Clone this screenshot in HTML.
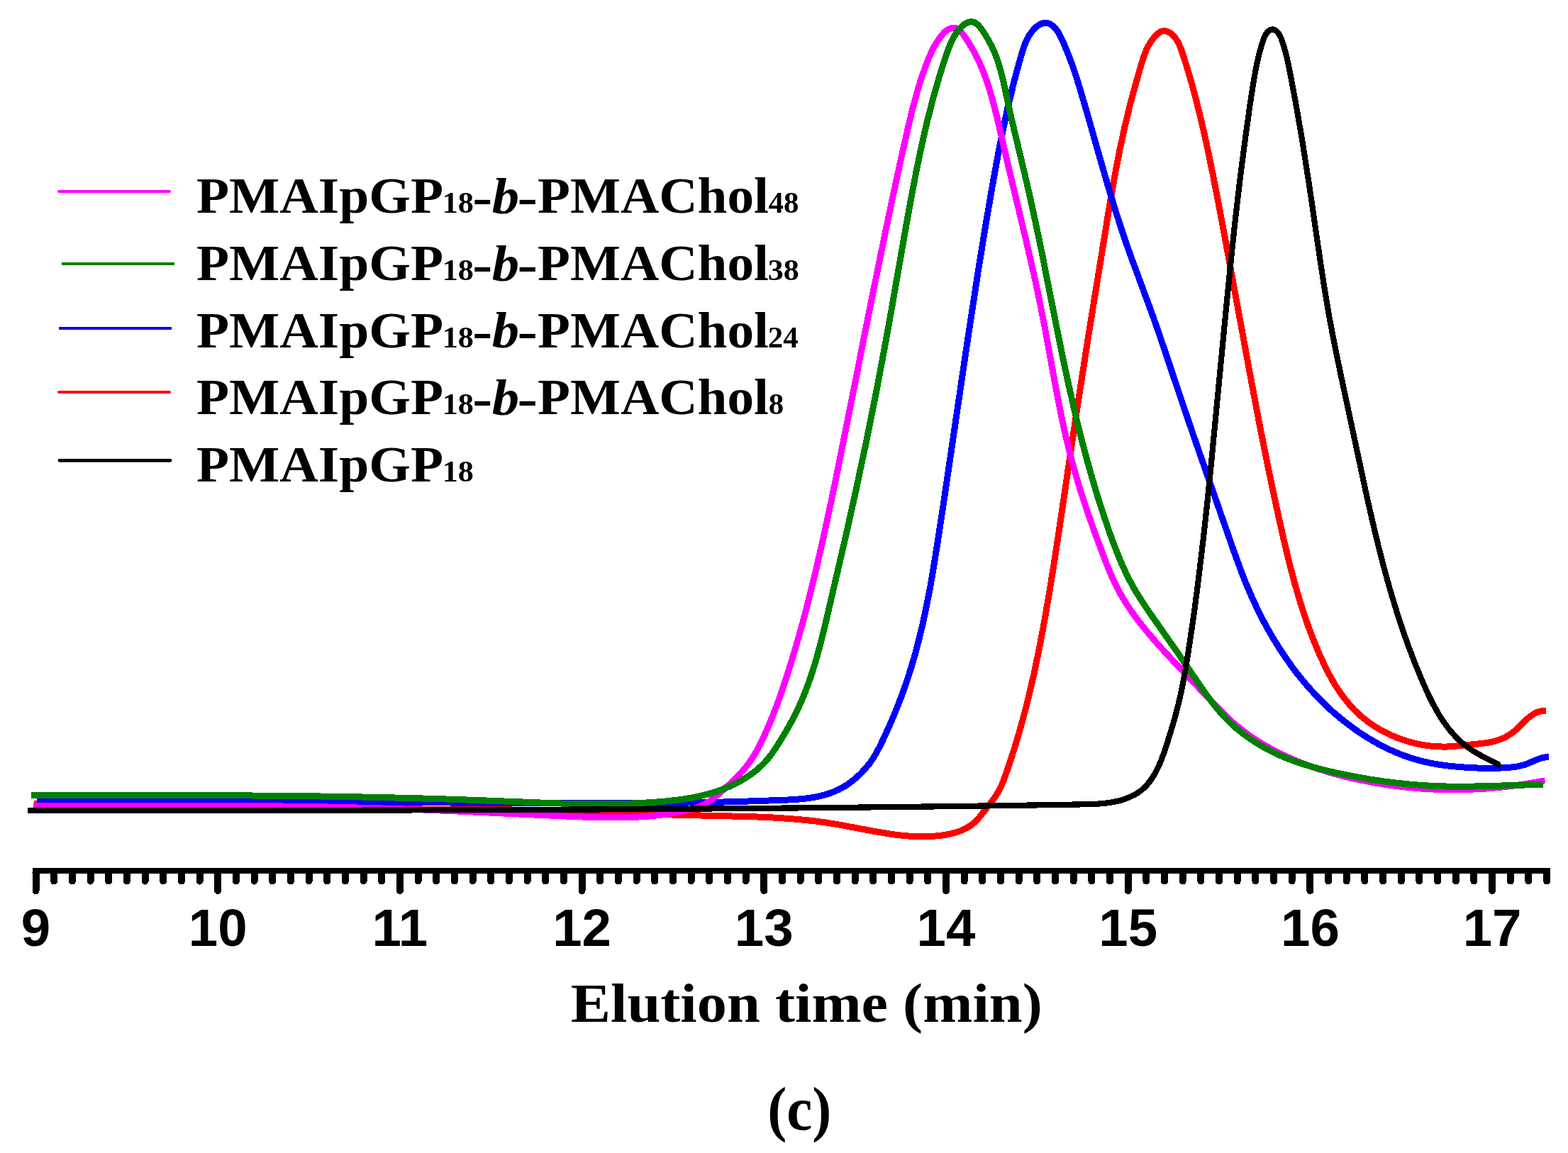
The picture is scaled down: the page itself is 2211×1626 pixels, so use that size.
<!DOCTYPE html><html><head><meta charset="utf-8"><style>html,body{margin:0;padding:0;background:#fff}svg{display:block}</style></head><body>
<svg width="2211" height="1626" viewBox="0 0 2211 1626">
<rect width="2211" height="1626" fill="#fff"/>
<g fill="none" stroke-width="9" stroke-linejoin="round" stroke-linecap="butt" shape-rendering="crispEdges">
<defs><clipPath id="cb"><rect x="0" y="0" width="2115.9" height="1626"/></clipPath></defs>
<path stroke="#ff0000" d="M48.0 1133.6L116.4 1133.8 192.4 1134.6 264.7 1135.8 430.0 1139.1 507.9 1140.3 562.0 1140.8 679.9 1141.5 737.8 1142.2 770.1 1142.9 804.3 1143.9 953.4 1149.2 1039.9 1151.2 1067.4 1152.0 1090.2 1153.0 1111.0 1154.3 1130.9 1156.0 1149.8 1158.0 1165.8 1160.2 1180.8 1162.6 1233.4 1172.5 1254.0 1175.9 1265.3 1177.5 1275.7 1178.6 1286.0 1179.4 1295.5 1179.7 1306.8 1179.7 1318.2 1179.1 1328.7 1178.0 1338.1 1176.4 1346.5 1174.3 1354.5 1171.6 1361.4 1168.5 1367.8 1164.7 1372.3 1161.3 1375.8 1158.1 1379.8 1153.9 1384.8 1147.9 1399.1 1129.4 1403.5 1123.3 1408.0 1116.2 1411.4 1109.5 1415.0 1100.8 1419.8 1087.4 1425.6 1070.3 1431.4 1052.2 1436.3 1035.7 1441.2 1018.3 1445.9 1000.9 1450.5 982.5 1458.0 950.1 1465.2 915.7 1472.1 879.3 1479.1 839.0 1484.7 804.3 1491.4 761.1 1520.0 568.4 1534.9 472.7 1564.6 289.7 1571.8 248.4 1578.8 212.0 1586.2 177.8 1593.8 146.5 1599.2 126.5 1608.3 94.2 1611.1 84.9 1613.6 77.5 1616.5 70.3 1619.5 64.3 1623.0 58.5 1627.0 53.0 1631.0 48.8 1634.6 46.0 1636.9 44.7 1638.4 44.1 1641.5 43.6 1643.9 43.8 1647.0 44.8 1650.1 46.5 1653.0 48.9 1655.7 51.6 1658.6 55.4 1660.7 58.7 1662.8 63.0 1664.7 67.4 1666.7 72.9 1674.0 95.9 1680.5 118.0 1687.0 142.0 1692.7 165.1 1698.3 189.2 1703.9 215.1 1710.0 244.8 1717.8 284.8 1726.4 330.5 1760.9 518.4 1776.6 601.6 1785.7 647.3 1794.4 689.2 1803.0 729.1 1811.4 766.2 1819.0 797.5 1826.3 825.0 1833.8 850.4 1841.4 873.9 1849.9 897.1 1859.0 919.2 1863.7 929.7 1868.2 939.2 1872.5 947.8 1877.0 956.2 1882.8 966.1 1889.0 975.6 1895.7 984.8 1902.2 992.8 1909.1 1000.5 1915.8 1007.0 1923.0 1013.2 1931.2 1019.5 1939.9 1025.3 1948.9 1030.6 1958.3 1035.3 1968.8 1039.9 1978.7 1043.5 1989.7 1046.9 1999.9 1049.3 2010.3 1051.2 2019.7 1052.3 2028.2 1052.9 2037.7 1053.1 2046.1 1052.8 2090.6 1048.4 2101.0 1046.8 2109.2 1044.8 2115.4 1042.8 2120.5 1040.6 2125.5 1038.0 2131.0 1034.5 2134.7 1031.7 2138.3 1028.6 2154.3 1013.1 2158.7 1009.5 2162.6 1006.9 2166.7 1004.8 2171.1 1003.3 2175.8 1002.4 2179.9 1002.2"/>
<path stroke="#0000ff" d="M52.0 1128.4L148.3 1128.4 254.7 1128.8 632.0 1132.0 782.4 1132.9 852.0 1132.9 911.6 1132.7 966.7 1132.1 1017.2 1131.1 1066.0 1129.7 1111.2 1128.0 1129.6 1126.8 1137.7 1125.9 1144.9 1124.8 1153.8 1123.2 1161.7 1121.3 1169.4 1118.9 1176.1 1116.4 1182.7 1113.4 1189.2 1109.9 1195.5 1106.0 1201.5 1101.6 1208.1 1096.2 1214.9 1089.6 1220.6 1083.4 1226.5 1076.1 1231.2 1069.3 1235.4 1062.2 1240.1 1053.5 1245.3 1042.9 1253.3 1025.5 1260.5 1008.7 1267.4 991.6 1273.9 974.4 1279.9 956.9 1285.2 940.3 1290.4 922.6 1295.3 904.0 1301.1 880.0 1306.6 854.0 1312.0 826.1 1317.2 795.4 1322.4 762.8 1330.0 712.9 1363.5 485.7 1379.3 382.3 1388.7 324.4 1397.9 270.2 1406.0 225.2 1413.4 187.4 1421.1 151.5 1429.3 117.5 1434.0 99.6 1439.0 81.7 1442.4 70.2 1445.2 62.3 1447.7 56.4 1450.7 50.8 1454.3 45.5 1457.9 41.2 1462.0 37.4 1465.7 34.8 1469.6 33.0 1471.9 32.4 1473.5 32.2 1475.9 32.4 1478.2 32.9 1480.4 33.8 1482.6 35.0 1484.7 36.6 1487.3 39.0 1489.1 41.1 1491.3 44.1 1495.1 50.7 1500.3 62.1 1506.1 76.1 1511.7 90.8 1517.6 108.2 1524.0 129.0 1533.2 160.4 1553.8 232.8 1563.1 264.7 1573.3 298.2 1582.9 327.9 1588.8 345.3 1595.3 363.4 1620.7 432.1 1630.9 460.5 1641.6 491.8 1667.0 567.5 1683.3 615.3 1739.5 776.4 1750.2 805.6 1756.9 822.7 1763.7 838.7 1771.0 854.6 1778.7 870.3 1786.5 885.0 1794.8 899.3 1803.5 913.4 1812.6 927.2 1821.1 939.2 1829.9 950.9 1839.2 962.3 1848.2 972.6 1858.1 983.3 1867.8 993.0 1877.8 1002.4 1888.2 1011.3 1898.9 1019.9 1909.9 1028.1 1921.4 1035.9 1932.3 1042.7 1943.5 1049.1 1955.0 1055.0 1966.7 1060.4 1977.8 1064.9 1990.8 1069.4 2003.1 1072.9 2016.4 1076.0 2029.9 1078.4 2044.4 1080.3 2060.8 1081.8 2079.2 1082.9 2096.7 1083.4 2109.6 1083.3 2121.5 1082.8 2132.3 1081.9 2140.4 1080.8 2145.7 1079.6 2150.9 1078.0 2156.1 1076.0 2167.1 1071.3 2173.2 1069.1 2178.5 1067.9 2184.0 1067.5"/>
<path stroke="#ff00ff" d="M47.0 1136.2L211.9 1136.0 300.8 1136.1 386.0 1136.8 462.1 1138.0 528.0 1139.6 592.1 1141.8 647.9 1144.1 777.0 1150.1 824.7 1152.1 852.2 1152.9 875.1 1152.9 887.9 1152.6 899.8 1152.1 911.6 1151.3 922.5 1150.3 933.4 1149.0 944.3 1147.4 955.1 1145.5 965.0 1143.4 974.0 1141.3 980.2 1139.5 985.5 1137.7 990.5 1135.7 995.4 1133.2 1000.0 1130.3 1004.4 1127.1 1010.2 1122.4 1021.3 1112.7 1030.2 1104.6 1038.1 1097.0 1045.0 1089.7 1050.9 1082.8 1056.5 1075.6 1061.1 1068.8 1065.8 1061.0 1071.4 1050.4 1078.2 1036.3 1084.5 1022.0 1090.7 1006.7 1096.6 991.3 1102.7 974.0 1108.8 955.8 1115.1 935.7 1121.2 915.5 1127.3 894.4 1133.4 872.4 1139.2 850.2 1150.8 803.1 1162.4 752.2 1171.6 709.2 1182.2 658.0 1228.8 423.5 1248.8 325.6 1260.3 270.9 1271.2 220.8 1280.5 179.6 1287.2 152.0 1294.0 127.3 1297.4 115.9 1301.1 104.7 1304.8 94.3 1308.4 84.9 1311.6 77.4 1315.1 69.9 1318.6 63.5 1322.5 57.2 1326.9 51.1 1331.2 46.0 1334.1 43.4 1337.4 41.3 1341.0 39.9 1344.6 39.3 1347.2 39.6 1350.2 40.8 1352.9 42.7 1356.0 46.0 1359.9 51.2 1365.1 58.9 1369.4 66.0 1374.0 74.0 1377.7 81.3 1381.2 88.7 1384.5 96.2 1387.9 104.7 1391.0 113.2 1394.2 122.7 1399.9 142.0 1406.5 167.8 1421.4 232.4 1445.8 334.8 1453.9 369.6 1460.9 400.8 1466.9 429.4 1472.4 457.3 1487.6 540.3 1492.8 567.4 1497.3 589.9 1501.7 610.5 1506.8 631.9 1511.8 651.4 1517.5 671.6 1523.8 692.7 1534.2 724.0 1545.8 756.8 1560.1 794.6 1564.9 806.5 1569.3 816.5 1573.2 824.8 1577.0 832.1 1581.4 840.1 1586.1 847.9 1591.1 855.7 1596.8 864.0 1602.7 872.2 1608.9 880.2 1617.6 890.9 1627.7 902.9 1639.3 915.9 1652.4 930.0 1719.8 1001.0 1730.2 1011.3 1740.4 1020.6 1750.3 1028.7 1761.3 1036.8 1772.6 1044.4 1784.2 1051.5 1796.2 1058.2 1809.3 1064.7 1822.6 1070.8 1836.2 1076.3 1854.4 1082.9 1873.7 1089.0 1894.2 1094.6 1915.8 1099.6 1937.5 1103.8 1960.1 1107.4 1981.8 1110.1 2004.5 1112.1 2026.4 1113.3 2048.3 1113.7 2070.1 1113.4 2092.0 1112.3 2113.9 1110.5 2135.8 1107.9 2157.6 1104.6 2178.6 1100.7"/>
<path stroke="#008000" d="M44.0 1121.5L192.2 1121.4 286.0 1121.6 372.4 1122.1 451.5 1123.0 533.3 1124.4 610.6 1126.4 675.9 1128.6 768.9 1132.3 803.8 1133.4 825.9 1133.8 847.1 1133.9 866.3 1133.8 885.6 1133.3 903.0 1132.5 919.5 1131.5 936.0 1130.2 949.7 1128.8 961.5 1127.3 973.3 1125.4 984.1 1123.3 994.9 1120.7 1005.6 1117.7 1015.3 1114.5 1024.8 1110.8 1034.1 1106.6 1043.1 1102.0 1051.1 1097.3 1058.7 1092.2 1065.9 1086.7 1072.1 1081.3 1078.0 1075.5 1083.5 1069.3 1088.5 1062.7 1094.3 1054.3 1101.2 1043.3 1108.8 1030.5 1115.6 1018.4 1121.1 1007.8 1126.3 997.1 1130.8 987.1 1135.3 976.1 1139.5 965.0 1143.8 952.8 1147.7 940.6 1151.7 927.4 1157.2 907.0 1163.0 883.7 1190.9 763.5 1206.7 692.7 1221.8 621.7 1235.2 554.9 1247.8 488.0 1257.3 435.4 1277.2 321.2 1287.1 266.9 1292.4 239.9 1297.4 215.6 1302.5 192.3 1307.5 170.9 1315.5 139.6 1324.1 109.5 1329.3 92.6 1334.6 76.8 1337.7 68.0 1340.8 60.3 1344.0 53.7 1347.3 48.2 1351.0 43.0 1354.6 38.9 1358.7 35.1 1361.7 32.9 1365.0 31.5 1367.5 30.9 1369.2 30.8 1371.7 31.0 1374.1 31.7 1376.3 33.0 1379.1 35.2 1381.6 38.0 1383.9 41.0 1387.8 46.6 1391.3 52.2 1397.2 62.8 1400.0 68.6 1402.6 74.5 1407.1 86.5 1411.0 99.6 1415.0 115.6 1422.0 148.0 1426.8 169.6 1447.5 256.3 1457.0 298.5 1468.9 355.2 1489.6 459.9 1497.8 500.5 1506.7 541.9 1515.0 578.6 1520.6 601.8 1526.5 625.0 1532.4 647.2 1538.6 669.3 1544.8 690.5 1551.1 710.7 1557.7 730.9 1564.2 750.0 1569.3 763.9 1573.9 776.0 1578.3 787.1 1583.1 798.1 1587.7 808.1 1592.7 818.0 1597.4 826.9 1602.5 835.6 1610.3 848.0 1620.0 862.6 1661.2 921.3 1692.8 967.8 1705.6 985.8 1712.9 995.2 1720.5 1004.3 1727.9 1012.4 1735.6 1020.1 1743.8 1027.5 1752.4 1034.4 1761.4 1040.9 1770.7 1047.1 1780.2 1052.8 1790.8 1058.5 1801.6 1063.8 1812.6 1068.6 1823.7 1072.9 1835.9 1077.0 1849.0 1081.1 1862.2 1084.7 1879.2 1088.8 1897.1 1092.6 1915.2 1096.1 1932.4 1099.1 1950.6 1101.8 1968.0 1104.0 1986.4 1106.0 2003.8 1107.4 2018.5 1108.3 2033.2 1108.9 2047.9 1109.2 2062.6 1109.3 2090.2 1108.8 2150.8 1107.0 2175.7 1106.6"/>
<path stroke="#000000" stroke-width="8.2" clip-path="url(#cb)" d="M39.0 1142.9L511.2 1142.6 697.4 1142.1 869.3 1141.3 1035.6 1140.2 1193.3 1138.8 1344.4 1137.1 1490.7 1135.0 1540.2 1134.1 1552.4 1133.3 1563.7 1132.1 1574.8 1130.0 1580.3 1128.6 1585.7 1126.9 1591.1 1124.9 1595.5 1122.9 1599.8 1120.8 1604.0 1118.3 1609.5 1114.5 1613.7 1110.7 1618.3 1105.9 1622.3 1100.7 1626.5 1094.4 1630.3 1087.8 1634.0 1080.1 1637.7 1071.3 1641.3 1061.5 1645.5 1048.8 1653.7 1022.5 1658.3 1006.1 1661.8 992.4 1665.0 978.5 1668.0 963.6 1671.0 947.7 1677.2 909.1 1684.1 862.1 1690.4 813.1 1696.7 760.4 1702.4 708.5 1708.2 650.9 1728.2 442.6 1736.7 357.5 1741.6 312.1 1746.5 269.7 1751.5 229.2 1756.6 190.7 1762.2 150.4 1767.8 113.9 1771.4 94.2 1775.2 77.1 1777.8 67.6 1780.5 58.9 1782.1 54.1 1784.1 49.8 1786.6 46.0 1788.9 43.7 1791.4 42.1 1792.8 41.7 1794.1 41.5 1795.5 41.6 1797.5 42.3 1798.8 43.1 1800.6 44.6 1801.8 45.9 1803.4 48.0 1805.7 52.3 1808.3 59.1 1811.3 68.9 1813.9 78.5 1816.5 89.7 1820.3 109.0 1826.7 143.2 1832.1 174.0 1837.3 204.9 1846.6 264.3 1860.8 362.2 1866.8 401.5 1873.6 442.7 1881.2 482.8 1890.4 527.5 1920.2 666.9 1928.0 703.2 1935.2 734.7 1943.8 770.7 1952.1 802.8 1960.5 833.0 1969.3 862.0 1977.5 887.3 1986.1 911.5 1994.9 934.6 2004.3 957.6 2012.8 976.9 2020.4 992.3 2028.2 1006.4 2035.8 1018.3 2043.0 1028.0 2051.0 1037.2 2055.6 1041.9 2059.7 1045.8 2064.0 1049.5 2068.4 1053.0 2077.2 1059.0 2088.1 1065.4 2099.3 1071.3 2121.8 1082.4"/>
</g>
<g stroke="#000" stroke-linecap="round" shape-rendering="crispEdges">
<line x1="45.5" y1="1228" x2="2186.2" y2="1228" stroke-width="8" stroke-linecap="butt"/>
<line x1="50.5" y1="1230.5" x2="50.5" y2="1256" stroke-width="10"/>
<line x1="76.2" y1="1230.5" x2="76.2" y2="1242.5" stroke-width="10"/>
<line x1="101.8" y1="1230.5" x2="101.8" y2="1242.5" stroke-width="10"/>
<line x1="127.5" y1="1230.5" x2="127.5" y2="1242.5" stroke-width="10"/>
<line x1="153.2" y1="1230.5" x2="153.2" y2="1242.5" stroke-width="10"/>
<line x1="178.8" y1="1230.5" x2="178.8" y2="1242.5" stroke-width="10"/>
<line x1="204.5" y1="1230.5" x2="204.5" y2="1242.5" stroke-width="10"/>
<line x1="230.2" y1="1230.5" x2="230.2" y2="1242.5" stroke-width="10"/>
<line x1="255.9" y1="1230.5" x2="255.9" y2="1242.5" stroke-width="10"/>
<line x1="281.5" y1="1230.5" x2="281.5" y2="1242.5" stroke-width="10"/>
<line x1="307.2" y1="1230.5" x2="307.2" y2="1256" stroke-width="10"/>
<line x1="332.9" y1="1230.5" x2="332.9" y2="1242.5" stroke-width="10"/>
<line x1="358.5" y1="1230.5" x2="358.5" y2="1242.5" stroke-width="10"/>
<line x1="384.2" y1="1230.5" x2="384.2" y2="1242.5" stroke-width="10"/>
<line x1="409.9" y1="1230.5" x2="409.9" y2="1242.5" stroke-width="10"/>
<line x1="435.6" y1="1230.5" x2="435.6" y2="1242.5" stroke-width="10"/>
<line x1="461.2" y1="1230.5" x2="461.2" y2="1242.5" stroke-width="10"/>
<line x1="486.9" y1="1230.5" x2="486.9" y2="1242.5" stroke-width="10"/>
<line x1="512.6" y1="1230.5" x2="512.6" y2="1242.5" stroke-width="10"/>
<line x1="538.2" y1="1230.5" x2="538.2" y2="1242.5" stroke-width="10"/>
<line x1="563.9" y1="1230.5" x2="563.9" y2="1256" stroke-width="10"/>
<line x1="589.6" y1="1230.5" x2="589.6" y2="1242.5" stroke-width="10"/>
<line x1="615.2" y1="1230.5" x2="615.2" y2="1242.5" stroke-width="10"/>
<line x1="640.9" y1="1230.5" x2="640.9" y2="1242.5" stroke-width="10"/>
<line x1="666.6" y1="1230.5" x2="666.6" y2="1242.5" stroke-width="10"/>
<line x1="692.2" y1="1230.5" x2="692.2" y2="1242.5" stroke-width="10"/>
<line x1="717.9" y1="1230.5" x2="717.9" y2="1242.5" stroke-width="10"/>
<line x1="743.6" y1="1230.5" x2="743.6" y2="1242.5" stroke-width="10"/>
<line x1="769.3" y1="1230.5" x2="769.3" y2="1242.5" stroke-width="10"/>
<line x1="794.9" y1="1230.5" x2="794.9" y2="1242.5" stroke-width="10"/>
<line x1="820.6" y1="1230.5" x2="820.6" y2="1256" stroke-width="10"/>
<line x1="846.3" y1="1230.5" x2="846.3" y2="1242.5" stroke-width="10"/>
<line x1="871.9" y1="1230.5" x2="871.9" y2="1242.5" stroke-width="10"/>
<line x1="897.6" y1="1230.5" x2="897.6" y2="1242.5" stroke-width="10"/>
<line x1="923.3" y1="1230.5" x2="923.3" y2="1242.5" stroke-width="10"/>
<line x1="949.0" y1="1230.5" x2="949.0" y2="1242.5" stroke-width="10"/>
<line x1="974.6" y1="1230.5" x2="974.6" y2="1242.5" stroke-width="10"/>
<line x1="1000.3" y1="1230.5" x2="1000.3" y2="1242.5" stroke-width="10"/>
<line x1="1026.0" y1="1230.5" x2="1026.0" y2="1242.5" stroke-width="10"/>
<line x1="1051.6" y1="1230.5" x2="1051.6" y2="1242.5" stroke-width="10"/>
<line x1="1077.3" y1="1230.5" x2="1077.3" y2="1256" stroke-width="10"/>
<line x1="1103.0" y1="1230.5" x2="1103.0" y2="1242.5" stroke-width="10"/>
<line x1="1128.6" y1="1230.5" x2="1128.6" y2="1242.5" stroke-width="10"/>
<line x1="1154.3" y1="1230.5" x2="1154.3" y2="1242.5" stroke-width="10"/>
<line x1="1180.0" y1="1230.5" x2="1180.0" y2="1242.5" stroke-width="10"/>
<line x1="1205.7" y1="1230.5" x2="1205.7" y2="1242.5" stroke-width="10"/>
<line x1="1231.3" y1="1230.5" x2="1231.3" y2="1242.5" stroke-width="10"/>
<line x1="1257.0" y1="1230.5" x2="1257.0" y2="1242.5" stroke-width="10"/>
<line x1="1282.7" y1="1230.5" x2="1282.7" y2="1242.5" stroke-width="10"/>
<line x1="1308.3" y1="1230.5" x2="1308.3" y2="1242.5" stroke-width="10"/>
<line x1="1334.0" y1="1230.5" x2="1334.0" y2="1256" stroke-width="10"/>
<line x1="1359.7" y1="1230.5" x2="1359.7" y2="1242.5" stroke-width="10"/>
<line x1="1385.3" y1="1230.5" x2="1385.3" y2="1242.5" stroke-width="10"/>
<line x1="1411.0" y1="1230.5" x2="1411.0" y2="1242.5" stroke-width="10"/>
<line x1="1436.7" y1="1230.5" x2="1436.7" y2="1242.5" stroke-width="10"/>
<line x1="1462.3" y1="1230.5" x2="1462.3" y2="1242.5" stroke-width="10"/>
<line x1="1488.0" y1="1230.5" x2="1488.0" y2="1242.5" stroke-width="10"/>
<line x1="1513.7" y1="1230.5" x2="1513.7" y2="1242.5" stroke-width="10"/>
<line x1="1539.4" y1="1230.5" x2="1539.4" y2="1242.5" stroke-width="10"/>
<line x1="1565.0" y1="1230.5" x2="1565.0" y2="1242.5" stroke-width="10"/>
<line x1="1590.7" y1="1230.5" x2="1590.7" y2="1256" stroke-width="10"/>
<line x1="1616.4" y1="1230.5" x2="1616.4" y2="1242.5" stroke-width="10"/>
<line x1="1642.0" y1="1230.5" x2="1642.0" y2="1242.5" stroke-width="10"/>
<line x1="1667.7" y1="1230.5" x2="1667.7" y2="1242.5" stroke-width="10"/>
<line x1="1693.4" y1="1230.5" x2="1693.4" y2="1242.5" stroke-width="10"/>
<line x1="1719.0" y1="1230.5" x2="1719.0" y2="1242.5" stroke-width="10"/>
<line x1="1744.7" y1="1230.5" x2="1744.7" y2="1242.5" stroke-width="10"/>
<line x1="1770.4" y1="1230.5" x2="1770.4" y2="1242.5" stroke-width="10"/>
<line x1="1796.1" y1="1230.5" x2="1796.1" y2="1242.5" stroke-width="10"/>
<line x1="1821.7" y1="1230.5" x2="1821.7" y2="1242.5" stroke-width="10"/>
<line x1="1847.4" y1="1230.5" x2="1847.4" y2="1256" stroke-width="10"/>
<line x1="1873.1" y1="1230.5" x2="1873.1" y2="1242.5" stroke-width="10"/>
<line x1="1898.7" y1="1230.5" x2="1898.7" y2="1242.5" stroke-width="10"/>
<line x1="1924.4" y1="1230.5" x2="1924.4" y2="1242.5" stroke-width="10"/>
<line x1="1950.1" y1="1230.5" x2="1950.1" y2="1242.5" stroke-width="10"/>
<line x1="1975.8" y1="1230.5" x2="1975.8" y2="1242.5" stroke-width="10"/>
<line x1="2001.4" y1="1230.5" x2="2001.4" y2="1242.5" stroke-width="10"/>
<line x1="2027.1" y1="1230.5" x2="2027.1" y2="1242.5" stroke-width="10"/>
<line x1="2052.8" y1="1230.5" x2="2052.8" y2="1242.5" stroke-width="10"/>
<line x1="2078.4" y1="1230.5" x2="2078.4" y2="1242.5" stroke-width="10"/>
<line x1="2104.1" y1="1230.5" x2="2104.1" y2="1256" stroke-width="10"/>
<line x1="2129.8" y1="1230.5" x2="2129.8" y2="1242.5" stroke-width="10"/>
<line x1="2155.4" y1="1230.5" x2="2155.4" y2="1242.5" stroke-width="10"/>
<line x1="2181.1" y1="1230.5" x2="2181.1" y2="1242.5" stroke-width="10"/>
</g>
<g font-family="Liberation Sans, Arial, sans-serif" font-weight="bold" font-size="74.5" text-anchor="middle" fill="#000">
<text x="50.5" y="1334">9</text>
<text x="307.2" y="1334">10</text>
<text x="563.9" y="1334">11</text>
<text x="820.6" y="1334">12</text>
<text x="1077.3" y="1334">13</text>
<text x="1334.0" y="1334">14</text>
<text x="1590.7" y="1334">15</text>
<text x="1847.4" y="1334">16</text>
<text x="2104.1" y="1334">17</text>
</g>
<g font-family="Liberation Serif, Times New Roman, serif" font-weight="bold" fill="#000">
<text transform="translate(804.73 1441.00) scale(1.0674 1)" font-size="79">Elution time (min)</text>
<text transform="translate(1082.16 1592.50) scale(0.9350 1)" font-size="87">(c)</text>
<line x1="83" y1="269.9" x2="239" y2="269.9" stroke="#ff00ff" stroke-width="4" stroke-linecap="round"/>
<text transform="translate(276.95 300.00) scale(1.0490 1)" font-size="72">PMAIpGP</text>
<text transform="translate(623.70 300.00) scale(1.0300 1)" font-size="43">18</text>
<text transform="translate(666.30 301.50) scale(1.1670 1)" font-size="72">-</text>
<text transform="translate(693.70 300.50) scale(1.0800 1)" font-size="71" font-style="italic">b</text>
<text transform="translate(729.40 301.50) scale(1.1900 1)" font-size="72">-</text>
<text transform="translate(757.95 300.00) scale(1.0450 1)" font-size="72">PMAChol</text>
<text x="1083.60" y="300.00" font-size="43">48</text>
<line x1="87" y1="372.0" x2="246" y2="372.0" stroke="#008000" stroke-width="4" stroke-linecap="butt"/>
<text transform="translate(276.95 395.00) scale(1.0490 1)" font-size="72">PMAIpGP</text>
<text transform="translate(623.70 395.00) scale(1.0300 1)" font-size="43">18</text>
<text transform="translate(666.30 396.50) scale(1.1670 1)" font-size="72">-</text>
<text transform="translate(693.70 395.50) scale(1.0800 1)" font-size="71" font-style="italic">b</text>
<text transform="translate(729.40 396.50) scale(1.1900 1)" font-size="72">-</text>
<text transform="translate(757.95 395.00) scale(1.0450 1)" font-size="72">PMAChol</text>
<text transform="translate(1082.80 395.00) scale(1.0250 1)" font-size="43">38</text>
<line x1="83" y1="462.9" x2="242" y2="462.9" stroke="#0000ff" stroke-width="4" stroke-linecap="butt"/>
<text transform="translate(276.95 489.50) scale(1.0490 1)" font-size="72">PMAIpGP</text>
<text transform="translate(623.70 489.50) scale(1.0300 1)" font-size="43">18</text>
<text transform="translate(666.30 491.00) scale(1.1670 1)" font-size="72">-</text>
<text transform="translate(693.70 490.00) scale(1.0800 1)" font-size="71" font-style="italic">b</text>
<text transform="translate(729.40 491.00) scale(1.1900 1)" font-size="72">-</text>
<text transform="translate(757.95 489.50) scale(1.0450 1)" font-size="72">PMAChol</text>
<text x="1082.80" y="489.50" font-size="43">24</text>
<line x1="83" y1="553.0" x2="239" y2="553.0" stroke="#ff0000" stroke-width="4" stroke-linecap="round"/>
<text transform="translate(276.95 584.00) scale(1.0490 1)" font-size="72">PMAIpGP</text>
<text transform="translate(623.70 584.00) scale(1.0300 1)" font-size="43">18</text>
<text transform="translate(666.30 585.50) scale(1.1670 1)" font-size="72">-</text>
<text transform="translate(693.70 584.50) scale(1.0800 1)" font-size="71" font-style="italic">b</text>
<text transform="translate(729.40 585.50) scale(1.1900 1)" font-size="72">-</text>
<text transform="translate(757.95 584.00) scale(1.0450 1)" font-size="72">PMAChol</text>
<text x="1083.80" y="584.00" font-size="43">8</text>
<line x1="84" y1="649.3" x2="240" y2="649.3" stroke="#000000" stroke-width="4.8" stroke-linecap="round"/>
<text transform="translate(276.95 679.00) scale(1.0490 1)" font-size="72">PMAIpGP</text>
<text transform="translate(623.70 679.00) scale(1.0300 1)" font-size="43">18</text>
</g>
</svg></body></html>
